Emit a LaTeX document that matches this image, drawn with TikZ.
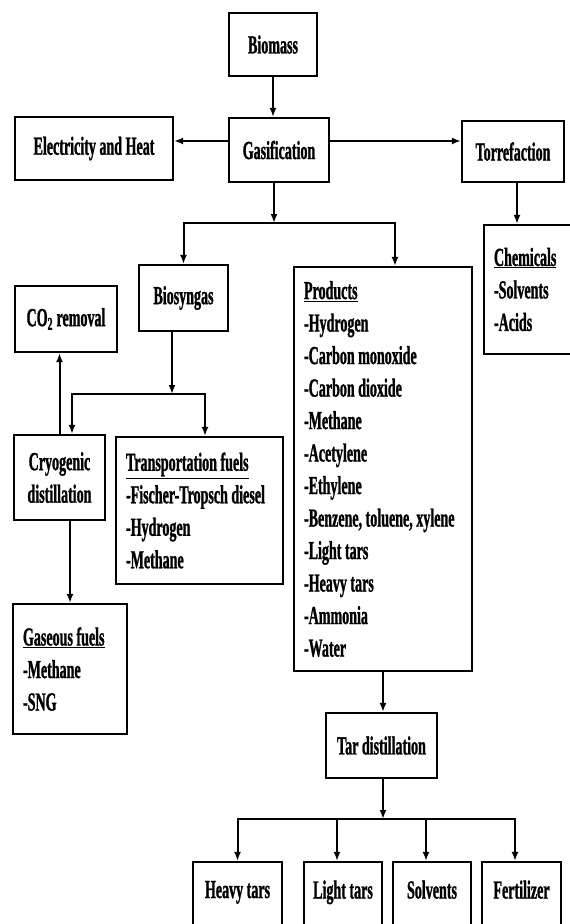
\documentclass[tikz,border=0pt]{standalone}
\usepackage{fontspec}
\setmainfont{Liberation Serif}[FakeStretch=0.54, FakeBold=1]
\usetikzlibrary{arrows.meta, positioning}

\begin{document}
\begin{tikzpicture}[
    x=1pt, y=-1pt,
    font=\bfseries\fontsize{26}{32.5}\selectfont,
    blk/.style={rectangle, draw, line width=2.2pt, align=center, inner sep=0pt},
    lst/.style={rectangle, draw, line width=2.2pt, align=flush left, inner xsep=10pt, inner ysep=0pt},
    tail/.style={blk, minimum height=76pt, text depth=21pt},
    arr/.style={-{Latex[length=9pt, width=7pt]}, line width=2pt},
]
\useasboundingbox (0,0) rectangle (570,924);

\node[blk, minimum width=88pt, minimum height=63pt] (biomass) at (273,44.5) {Biomass};
\node[blk, minimum width=100pt, minimum height=64pt] (gasif) at (279,150) {Gasification};
\node[blk, minimum width=158pt, minimum height=63pt] (elec) at (94,148.5) {Electricity and Heat};
\node[blk, minimum width=102pt, minimum height=61pt] (torr) at (513,151.5) {Torrefaction};
\node[lst, text width=72pt, minimum height=129pt] (chem) at (530,289.5) {\underline{Chemicals}\\-Solvents\\-Acids};
\node[blk, minimum width=89pt, minimum height=66pt] (biosyn) at (183.5,298) {Biosyngas};
\node[lst, text width=158pt, minimum height=404pt] (products) at (383,469) {\underline{Products}\\-Hydrogen\\-Carbon monoxide\\-Carbon dioxide\\-Methane\\-Acetylene\\-Ethylene\\-Benzene, toluene, xylene\\-Light tars\\-Heavy tars\\-Ammonia\\-Water};
\node[blk, minimum width=102pt, minimum height=66pt] (co2) at (66,319) {CO\textsubscript{2} removal};
\node[blk, minimum width=91pt, minimum height=85pt] (cryo) at (59.5,477.5) {Cryogenic\\distillation};
\node[lst, text width=147pt, minimum height=147pt] (transp) at (199.5,510.5) {\underline{Transportation fuels}\\-Fischer-Tropsch diesel\\-Hydrogen\\-Methane};
\node[lst, text width=94pt, minimum height=130pt] (gaseous) at (70,669) {\underline{Gaseous fuels}\\-Methane\\-SNG};
\node[blk, minimum width=111pt, minimum height=65pt] (tar) at (381.5,745.5) {Tar distillation};
\node[tail, minimum width=89pt] (heavy) at (237.5,900) {Heavy tars};
\node[tail, minimum width=78pt] (light) at (343,900) {Light tars};
\node[tail, minimum width=78pt] (solv) at (432,900) {Solvents};
\node[tail, minimum width=79pt] (fert) at (521.5,900) {Fertilizer};

\coordinate (split1) at (274,223);
\coordinate (split2) at (172,394);
\coordinate (split3) at (383,819);

\draw[arr] (biomass.south) -- (biomass.south |- gasif.north);
\draw[arr] (gasif.170) -- (elec.east |- gasif.170);
\draw[arr] (gasif.10) -- (torr.west |- gasif.10);
\draw[arr] ([xshift=4pt]torr.south) -- ([xshift=4pt]torr.south |- chem.north);
\draw[arr] (split1 |- gasif.south) -- (split1);
\draw[arr] (split1) -| (biosyn.north);
\draw[arr] (split1) -| ([xshift=12pt]products.north);
\draw[arr] (split2 |- biosyn.south) -- (split2);
\draw[arr] (split2) -| ([xshift=12.5pt]cryo.north);
\draw[arr] (split2) -| ([xshift=5.5pt]transp.north);
\draw[arr] (cryo.north) -- (cryo.north |- co2.south);
\draw[arr] (gaseous.north |- cryo.south) -- (gaseous.north);
\draw[arr] (products.south) -- (products.south |- tar.north);
\draw[arr] (split3 |- tar.south) -- (split3);
\draw[arr] (split3) -| (heavy.north);
\draw[arr] (split3) -| ([xshift=-6pt]light.north);
\draw[arr] (split3) -| ([xshift=-6pt]solv.north);
\draw[arr] (split3) -| ([xshift=-6.5pt]fert.north);

\end{tikzpicture}
\end{document}
